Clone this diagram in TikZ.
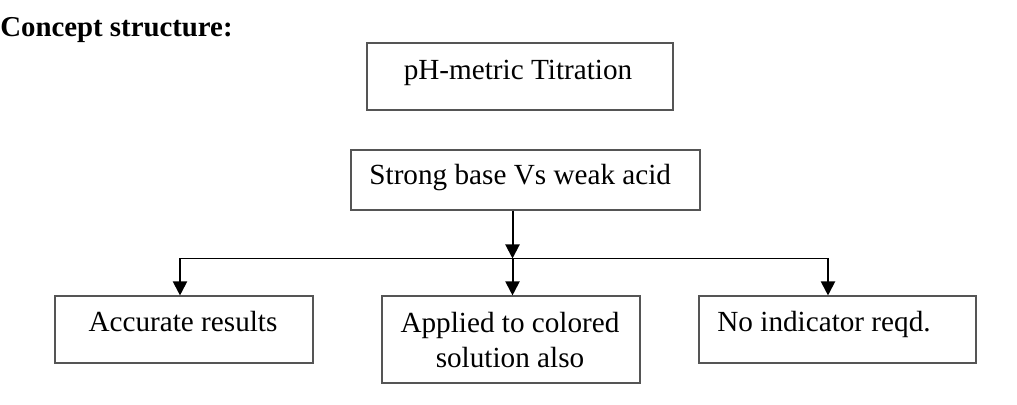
\documentclass[tikz,border=0pt]{standalone}
\usepackage{fontspec}
\setmainfont{Liberation Serif}
\usetikzlibrary{arrows.meta}
\definecolor{boxgray}{HTML}{555555}

\tikzset{
    boxnode/.style={draw=boxgray, line width=0.55pt, inner sep=0pt},
    boxtext/.style={inner sep=0pt, anchor=base, font=\fontsize{14.6pt}{17.5pt}\selectfont},
    arrowline/.style={-{Triangle[length=7pt, width=7pt]}, line width=1pt},
    joinline/.style={line width=0.8pt}
}

\begin{document}
\begin{tikzpicture}[x=0.5pt, y=-0.5pt]
        \useasboundingbox (0,0) rectangle (1017,405);

        % Titulo
        \node[inner sep=0pt, anchor=base west, font=\fontsize{14.4pt}{17.5pt}\selectfont\bfseries] (title) at (0,37) {Concept structure:};

        % Caja superior
        \node[boxnode, minimum width=153pt, minimum height=33.5pt] (titration) at (520,76.5) {};
        \node[boxtext] (titrationtxt) at (518,80) {pH-metric Titration};

        % Caja base/acido
        \node[boxnode, minimum width=174.5pt, minimum height=30pt] (basacid) at (525.5,180) {};
        \node[boxtext, anchor=base west] (basacidtxt) at (369,185) {Strong base Vs weak acid};

        % Cajas inferiores
        \node[boxnode, minimum width=129pt, minimum height=33.5pt] (accurate) at (184,329.5) {};
        \node[boxtext] (accuratetxt) at (183,332) {Accurate results};

        \node[boxnode, minimum width=129pt, minimum height=43.5pt] (colored) at (511,339.5) {};
        \node[boxtext, align=center] (coloredtxt) at (510,368) {Applied to colored\\solution also};

        \node[boxnode, minimum width=138.5pt, minimum height=33.5pt] (noind) at (837.5,329.5) {};
        \node[boxtext, anchor=base west] (noindtxt) at (717,332) {No indicator reqd.};

        % Conectores
        \coordinate (jleft) at (180,258.5);
        \coordinate (jmid) at (512.5,258.5);
        \coordinate (jright) at (828,258.5);
        \draw[arrowline] (jmid |- basacid.south) -- (jmid);
        \draw[joinline] (jleft) -- (jright);
        \draw[arrowline] (jleft) -- (jleft |- accurate.north);
        \draw[arrowline] (jmid) -- (jmid |- colored.north);
        \draw[arrowline] (jright) -- (jright |- noind.north);
    \end{tikzpicture}
\end{document}
